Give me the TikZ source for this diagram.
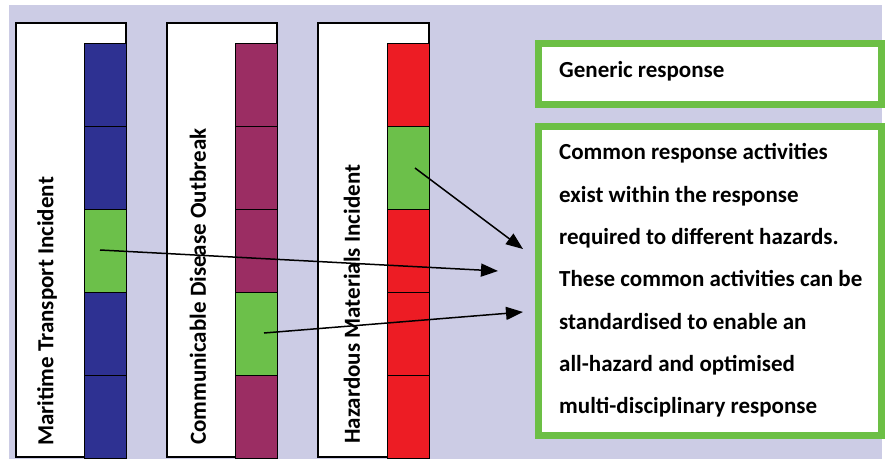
\documentclass[tikz,border=0pt]{standalone}
\usepackage{fontspec}
\setmainfont{Carlito}
\usetikzlibrary{arrows.meta}
\definecolor{lav}{HTML}{CCCCE5}
\definecolor{cblue}{HTML}{2E3192}
\definecolor{cpurple}{HTML}{9B2D63}
\definecolor{cred}{HTML}{ED1C24}
\definecolor{cgreen}{HTML}{6CC04A}
\definecolor{bgreen}{HTML}{6CBF45}
\tikzset{
  colbox/.style={draw=black, line width=1.3pt, fill=white},
  seg/.style={draw=black, line width=1.3pt, fill=#1, minimum width=42pt, minimum height=83pt, inner sep=0pt, anchor=north west},
  lbl/.style={rotate=90, anchor=west, font=\bfseries\fontsize{23}{27}\selectfont, inner sep=0pt},
  gbox/.style={draw=bgreen, line width=7pt, fill=white},
  arr/.style={draw=black, line width=1.5pt, -{Triangle[length=17pt,width=13pt]}},
  txt/.style={font=\bfseries\fontsize{23}{42.3}\selectfont, align=left, inner sep=0pt}
}
\begin{document}
\begin{tikzpicture}[x=1pt,y=-1pt]
\useasboundingbox (0,0) rectangle (887,459);
\fill[lav] (9,5) rectangle (882,459);
% column 1
\draw[colbox] (16,23) rectangle (126,457);
\node[seg=cblue] (a1) at (84,43) {};
\node[seg=cblue] (a2) at (84,126) {};
\node[seg=cgreen] (a3) at (84,209) {};
\node[seg=cblue] (a4) at (84,292) {};
\node[seg=cblue] (a5) at (84,375) {};
\node[lbl] (la) at (47,446) {Maritime Transport Incident};
% column 2
\draw[colbox] (167,23) rectangle (277,457);
\node[seg=cpurple] (b1) at (235,43) {};
\node[seg=cpurple] (b2) at (235,126) {};
\node[seg=cpurple] (b3) at (235,209) {};
\node[seg=cgreen] (b4) at (235,292) {};
\node[seg=cpurple] (b5) at (235,375) {};
\node[lbl] (lb) at (198,445) {Communicable Disease Outbreak};
% column 3
\draw[colbox] (318,23) rectangle (429,457);
\node[seg=cred] (c1) at (387,43) {};
\node[seg=cgreen] (c2) at (387,126) {};
\node[seg=cred] (c3) at (387,209) {};
\node[seg=cred] (c4) at (387,292) {};
\node[seg=cred] (c5) at (387,375) {};
\node[lbl] (lc) at (352,444) {Hazardous Materials Incident};
% green boxes
\draw[gbox] (538.5,43.5) rectangle (881,104.5);
\draw[gbox] (538.5,126.5) rectangle (881,435.5);
\node[txt, anchor=west] (g) at (559,71) {Generic response};
\node[txt, anchor=north west] (t) at (559,143.5) {Common response activities\\exist within the response\\required to different hazards.\\These common activities can be\\standardised to enable an\\all-hazard and optimised\\multi-disciplinary response};
% arrows
\coordinate (s1) at (100,250);
\coordinate (e1) at (498,271);
\coordinate (s2) at (264,333);
\coordinate (e2) at (523,312);
\coordinate (s3) at (415,168);
\coordinate (e3) at (523,249);
\draw[arr] (s1) -- (e1);
\draw[arr] (s2) -- (e2);
\draw[arr] (s3) -- (e3);
\end{tikzpicture}
\end{document}
